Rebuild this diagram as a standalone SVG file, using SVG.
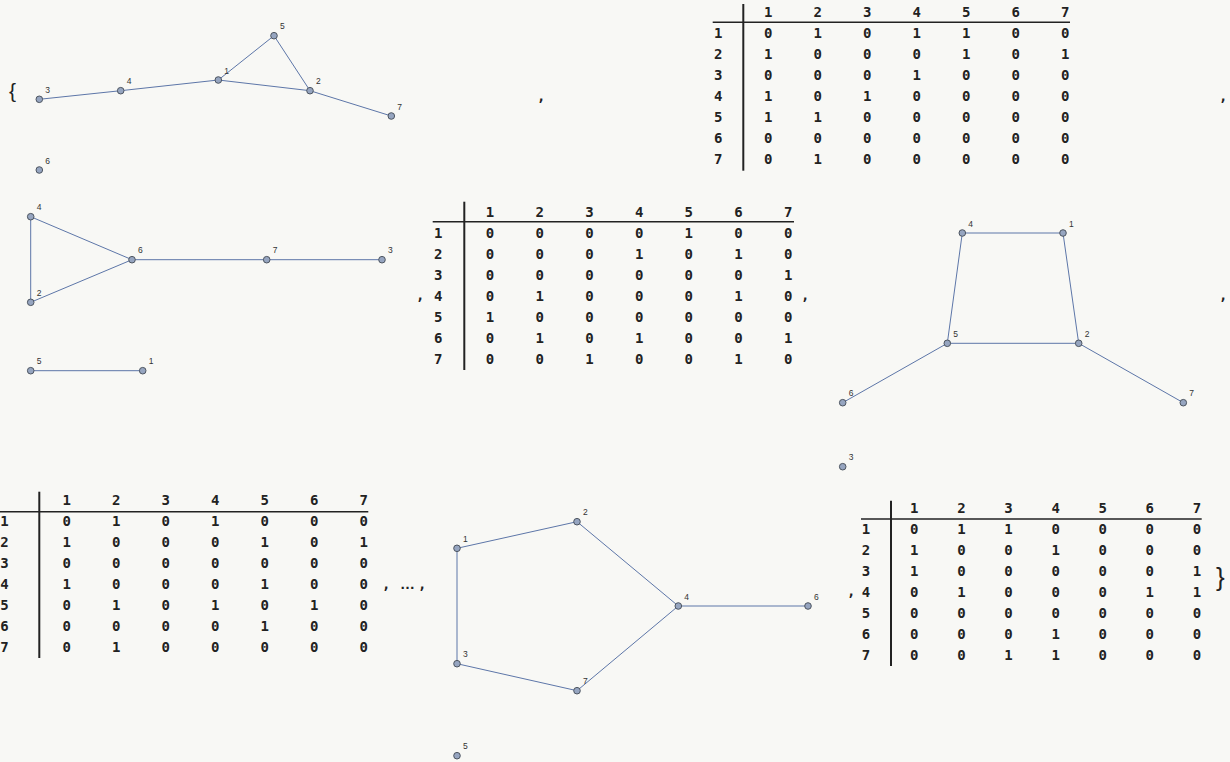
<svg xmlns="http://www.w3.org/2000/svg" width="1230" height="762" viewBox="0 0 1230 762">
<style>
.bg{fill:#f8f8f5}
.e{stroke:#5d76a8;stroke-width:1;fill:none}
.n{fill:#96a5c0;stroke:#4d5560;stroke-width:1}
.l{font-family:"Liberation Sans",Arial,sans-serif;font-size:8.5px;fill:#333}
.m{font-family:"DejaVu Sans Mono","Liberation Mono",monospace;font-size:14px;font-weight:bold;fill:#222;text-anchor:middle}
.p{font-family:"DejaVu Sans Mono","Liberation Mono",monospace;font-size:14px;font-weight:bold;fill:#222}
.b{font-family:"Liberation Sans",Arial,sans-serif;fill:#222}
.v{stroke:#222;stroke-width:2}
.h{stroke:#222;stroke-width:1.5}
</style>
<rect class="bg" x="0" y="0" width="1230" height="762"/>

<text class="b" x="9" y="98" font-size="21">{</text>
<text class="b" x="1216" y="586" font-size="26">}</text>
<text class="p" x="537" y="101">,</text>
<text class="p" x="1219" y="101">,</text>
<text class="p" x="416" y="300">,</text>
<text class="p" x="801" y="300">,</text>
<text class="p" x="1219" y="300">,</text>
<text class="p" x="382" y="589">,<tspan x="400" font-family="Liberation Sans, Arial, sans-serif" font-size="15">…</tspan><tspan x="418">,</tspan></text>
<text class="p" x="847" y="596">,</text>

<g id="connectors">
<!-- graph 1 -->
<line class="e" x1="39.3" y1="99.3" x2="120.7" y2="90.7"/>
<line class="e" x1="120.7" y1="90.7" x2="218.3" y2="80"/>
<line class="e" x1="218.3" y1="80" x2="274" y2="35.7"/>
<line class="e" x1="274" y1="35.7" x2="310" y2="90.7"/>
<line class="e" x1="218.3" y1="80" x2="310" y2="90.7"/>
<line class="e" x1="310" y1="90.7" x2="391.3" y2="116"/>
<!-- graph 2 -->
<line class="e" x1="30.7" y1="216.7" x2="30.7" y2="302.3"/>
<line class="e" x1="30.7" y1="216.7" x2="132" y2="259.7"/>
<line class="e" x1="30.7" y1="302.3" x2="132" y2="259.7"/>
<line class="e" x1="132" y1="259.7" x2="266.7" y2="259.7"/>
<line class="e" x1="266.7" y1="259.7" x2="382" y2="259.7"/>
<line class="e" x1="30.7" y1="370.7" x2="142.7" y2="370.7"/>
<!-- graph 3 -->
<line class="e" x1="962.3" y1="233" x2="1063" y2="233"/>
<line class="e" x1="962.3" y1="233" x2="947.3" y2="343.3"/>
<line class="e" x1="1063" y1="233" x2="1078.7" y2="343.3"/>
<line class="e" x1="947.3" y1="343.3" x2="1078.7" y2="343.3"/>
<line class="e" x1="947.3" y1="343.3" x2="842.7" y2="402.7"/>
<line class="e" x1="1078.7" y1="343.3" x2="1183.3" y2="402.7"/>
<!-- graph 4 -->
<line class="e" x1="457" y1="548.3" x2="577" y2="521.7"/>
<line class="e" x1="577" y1="521.7" x2="678.3" y2="606"/>
<line class="e" x1="678.3" y1="606" x2="808" y2="606"/>
<line class="e" x1="457" y1="548.3" x2="457" y2="663.7"/>
<line class="e" x1="457" y1="663.7" x2="577" y2="690.7"/>
<line class="e" x1="577" y1="690.7" x2="678.3" y2="606"/>
</g>

<!-- graph 1 nodes -->
<g id="g1n1"><circle class="n" cx="218.3" cy="80" r="3.3"/><text class="l" x="224.3" y="73.5">1</text></g>
<g id="g1n2"><circle class="n" cx="310" cy="90.7" r="3.3"/><text class="l" x="316" y="84.2">2</text></g>
<g id="g1n3"><circle class="n" cx="39.3" cy="99.3" r="3.3"/><text class="l" x="45.3" y="92.8">3</text></g>
<g id="g1n4"><circle class="n" cx="120.7" cy="90.7" r="3.3"/><text class="l" x="126.7" y="84.2">4</text></g>
<g id="g1n5"><circle class="n" cx="274" cy="35.7" r="3.3"/><text class="l" x="280" y="29.2">5</text></g>
<g id="g1n6"><circle class="n" cx="39.3" cy="170" r="3.3"/><text class="l" x="45.3" y="163.5">6</text></g>
<g id="g1n7"><circle class="n" cx="391.3" cy="116" r="3.3"/><text class="l" x="397.3" y="109.5">7</text></g>

<!-- graph 2 nodes -->
<g id="g2n1"><circle class="n" cx="142.7" cy="370.7" r="3.3"/><text class="l" x="148.7" y="364.2">1</text></g>
<g id="g2n2"><circle class="n" cx="30.7" cy="302.3" r="3.3"/><text class="l" x="36.7" y="295.8">2</text></g>
<g id="g2n3"><circle class="n" cx="382" cy="259.7" r="3.3"/><text class="l" x="388" y="253.2">3</text></g>
<g id="g2n4"><circle class="n" cx="30.7" cy="216.7" r="3.3"/><text class="l" x="36.7" y="210.2">4</text></g>
<g id="g2n5"><circle class="n" cx="30.7" cy="370.7" r="3.3"/><text class="l" x="36.7" y="364.2">5</text></g>
<g id="g2n6"><circle class="n" cx="132" cy="259.7" r="3.3"/><text class="l" x="138" y="253.2">6</text></g>
<g id="g2n7"><circle class="n" cx="266.7" cy="259.7" r="3.3"/><text class="l" x="272.7" y="253.2">7</text></g>

<!-- graph 3 nodes -->
<g id="g3n1"><circle class="n" cx="1063" cy="233" r="3.3"/><text class="l" x="1069" y="226.5">1</text></g>
<g id="g3n2"><circle class="n" cx="1078.7" cy="343.3" r="3.3"/><text class="l" x="1084.7" y="336.8">2</text></g>
<g id="g3n3"><circle class="n" cx="842.7" cy="466.7" r="3.3"/><text class="l" x="848.7" y="460.2">3</text></g>
<g id="g3n4"><circle class="n" cx="962.3" cy="233" r="3.3"/><text class="l" x="968.3" y="226.5">4</text></g>
<g id="g3n5"><circle class="n" cx="947.3" cy="343.3" r="3.3"/><text class="l" x="953.3" y="336.8">5</text></g>
<g id="g3n6"><circle class="n" cx="842.7" cy="402.7" r="3.3"/><text class="l" x="848.7" y="396.2">6</text></g>
<g id="g3n7"><circle class="n" cx="1183.3" cy="402.7" r="3.3"/><text class="l" x="1189.3" y="396.2">7</text></g>

<!-- graph 4 nodes -->
<g id="g4n1"><circle class="n" cx="457" cy="548.3" r="3.3"/><text class="l" x="463" y="541.8">1</text></g>
<g id="g4n2"><circle class="n" cx="577" cy="521.7" r="3.3"/><text class="l" x="583" y="515.2">2</text></g>
<g id="g4n3"><circle class="n" cx="457" cy="663.7" r="3.3"/><text class="l" x="463" y="657.2">3</text></g>
<g id="g4n4"><circle class="n" cx="678.3" cy="606" r="3.3"/><text class="l" x="684.3" y="599.5">4</text></g>
<g id="g4n5"><circle class="n" cx="457" cy="755.7" r="3.3"/><text class="l" x="463" y="749.2">5</text></g>
<g id="g4n6"><circle class="n" cx="808" cy="606" r="3.3"/><text class="l" x="814" y="599.5">6</text></g>
<g id="g4n7"><circle class="n" cx="577" cy="690.7" r="3.3"/><text class="l" x="583" y="684.2">7</text></g>

<!-- matrix 1 -->
<g id="matrix1">
<line class="v" x1="743.3" y1="4" x2="743.3" y2="170.7"/>
<line class="h" x1="712.7" y1="22.3" x2="1070" y2="22.3"/>
<text class="m" x="768.3 817.8 867.3 916.8 966.3 1015.8 1065.3" y="17.3">1234567</text>
<text class="m" x="718.3 768.3 817.8 867.3 916.8 966.3 1015.8 1065.3" y="38.3">10101100</text>
<text class="m" x="718.3 768.3 817.8 867.3 916.8 966.3 1015.8 1065.3" y="59.3">21000101</text>
<text class="m" x="718.3 768.3 817.8 867.3 916.8 966.3 1015.8 1065.3" y="80.3">30001000</text>
<text class="m" x="718.3 768.3 817.8 867.3 916.8 966.3 1015.8 1065.3" y="101.3">41010000</text>
<text class="m" x="718.3 768.3 817.8 867.3 916.8 966.3 1015.8 1065.3" y="122.3">51100000</text>
<text class="m" x="718.3 768.3 817.8 867.3 916.8 966.3 1015.8 1065.3" y="143.3">60000000</text>
<text class="m" x="718.3 768.3 817.8 867.3 916.8 966.3 1015.8 1065.3" y="164.3">70100000</text>
</g>

<!-- matrix 2 -->
<g id="matrix2">
<line class="v" x1="464.3" y1="201.7" x2="464.3" y2="370"/>
<line class="h" x1="432.7" y1="221.7" x2="794" y2="221.7"/>
<text class="m" x="490 539.7 589.4 639.1 688.8 738.5 788.2" y="216.7">1234567</text>
<text class="m" x="438.3 490 539.7 589.4 639.1 688.8 738.5 788.2" y="237.7">10000100</text>
<text class="m" x="438.3 490 539.7 589.4 639.1 688.8 738.5 788.2" y="258.7">20001010</text>
<text class="m" x="438.3 490 539.7 589.4 639.1 688.8 738.5 788.2" y="279.7">30000001</text>
<text class="m" x="438.3 490 539.7 589.4 639.1 688.8 738.5 788.2" y="300.7">40100010</text>
<text class="m" x="438.3 490 539.7 589.4 639.1 688.8 738.5 788.2" y="321.7">51000000</text>
<text class="m" x="438.3 490 539.7 589.4 639.1 688.8 738.5 788.2" y="342.7">60101001</text>
<text class="m" x="438.3 490 539.7 589.4 639.1 688.8 738.5 788.2" y="363.7">70010010</text>
</g>

<!-- matrix 3 -->
<g id="matrix3">
<line class="v" x1="39.3" y1="491.7" x2="39.3" y2="658"/>
<line class="h" x1="0" y1="511.7" x2="368.3" y2="511.7"/>
<text class="m" x="66.7 116.2 165.7 215.2 264.7 314.2 363.7" y="505">1234567</text>
<text class="m" x="4.5 66.7 116.2 165.7 215.2 264.7 314.2 363.7" y="526">10101000</text>
<text class="m" x="4.5 66.7 116.2 165.7 215.2 264.7 314.2 363.7" y="547">21000101</text>
<text class="m" x="4.5 66.7 116.2 165.7 215.2 264.7 314.2 363.7" y="568">30000000</text>
<text class="m" x="4.5 66.7 116.2 165.7 215.2 264.7 314.2 363.7" y="589">41000100</text>
<text class="m" x="4.5 66.7 116.2 165.7 215.2 264.7 314.2 363.7" y="610">50101010</text>
<text class="m" x="4.5 66.7 116.2 165.7 215.2 264.7 314.2 363.7" y="631">60000100</text>
<text class="m" x="4.5 66.7 116.2 165.7 215.2 264.7 314.2 363.7" y="652">70100000</text>
</g>

<!-- matrix 4 -->
<g id="matrix4">
<line class="v" x1="891" y1="500.7" x2="891" y2="666"/>
<line class="h" x1="861" y1="519" x2="1201.7" y2="519"/>
<text class="m" x="914.3 961.4 1008.5 1055.6 1102.7 1149.8 1196.9" y="512.7">1234567</text>
<text class="m" x="866 914.3 961.4 1008.5 1055.6 1102.7 1149.8 1196.9" y="534.3">10110000</text>
<text class="m" x="866 914.3 961.4 1008.5 1055.6 1102.7 1149.8 1196.9" y="555.3">21001000</text>
<text class="m" x="866 914.3 961.4 1008.5 1055.6 1102.7 1149.8 1196.9" y="576.3">31000001</text>
<text class="m" x="866 914.3 961.4 1008.5 1055.6 1102.7 1149.8 1196.9" y="597.3">40100011</text>
<text class="m" x="866 914.3 961.4 1008.5 1055.6 1102.7 1149.8 1196.9" y="618.3">50000000</text>
<text class="m" x="866 914.3 961.4 1008.5 1055.6 1102.7 1149.8 1196.9" y="639.3">60001000</text>
<text class="m" x="866 914.3 961.4 1008.5 1055.6 1102.7 1149.8 1196.9" y="660.3">70011000</text>
</g>
</svg>
